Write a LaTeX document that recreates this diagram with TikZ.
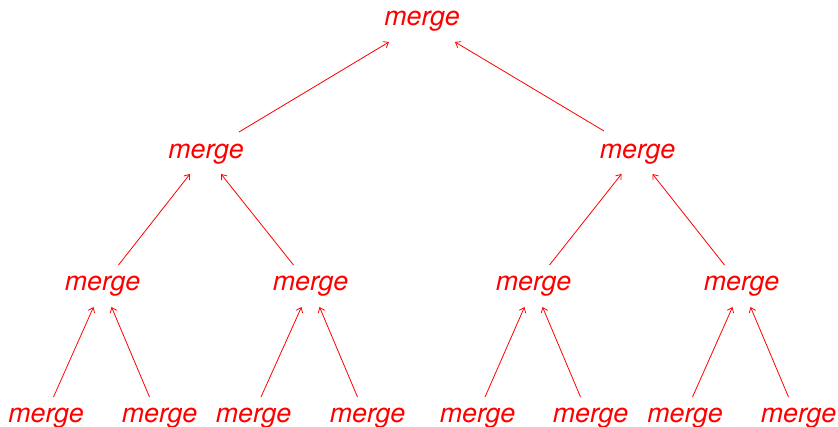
\documentclass[tikz,border=0pt]{standalone}
\usepackage{fontspec}
\setsansfont{TeX Gyre Heros}
\usetikzlibrary{calc,arrows.meta}
\begin{document}
\begin{tikzpicture}[x=1pt,y=-1pt,
  lbl/.style={anchor=base,inner sep=0pt,text=red,
    font=\fontsize{26.8}{30}\selectfont\sffamily\itshape},
  link/.style={draw=red,line width=0.8pt,
    -{Straight Barb[length=4.5pt,width=7pt,line width=0.8pt]}}]
\useasboundingbox (0,0) rectangle (838,427);
% root
\node[lbl] (r) at (422,26) {merge};
% second level
\node[lbl] (a) at (206,159) {merge};
\node[lbl] (b) at (637.5,159) {merge};
% third level
\node[lbl] (aa) at (102.5,291) {merge};
\node[lbl] (ab) at (310.5,291) {merge};
\node[lbl] (ba) at (533.5,291) {merge};
\node[lbl] (bb) at (741.5,291) {merge};
% leaves
\node[lbl] (aaa) at (46,422) {merge};
\node[lbl] (aab) at (159.5,422) {merge};
\node[lbl] (aba) at (253.5,422) {merge};
\node[lbl] (abb) at (367.5,422) {merge};
\node[lbl] (baa) at (477.5,422) {merge};
\node[lbl] (bab) at (590.5,422) {merge};
\node[lbl] (bba) at (685,422) {merge};
\node[lbl] (bbb) at (798.5,422) {merge};
% connectors: child -> parent
\draw[link] ($(a.base)+(33,-27)$) -- ($(r.base)+(-33,16)$);
\draw[link] ($(b.base)+(-33.5,-28)$) -- ($(r.base)+(33,16)$);
\foreach \c/\p in {aa/a,ba/b}
  \draw[link] ($(\c.base)+(16,-26)$) -- ($(\p.base)+(-16,15)$);
\foreach \c/\p in {ab/a,bb/b}
  \draw[link] ($(\c.base)+(-17,-26)$) -- ($(\p.base)+(15,15)$);
\foreach \c/\p in {aaa/aa,aba/ab,baa/ba,bba/bb}
  \draw[link] ($(\c.base)+(7.5,-25)$) -- ($(\p.base)+(-9,16)$);
\foreach \c/\p in {aab/aa,abb/ab,bab/ba,bbb/bb}
  \draw[link] ($(\c.base)+(-10,-25)$) -- ($(\p.base)+(9,16)$);
\end{tikzpicture}
\end{document}
